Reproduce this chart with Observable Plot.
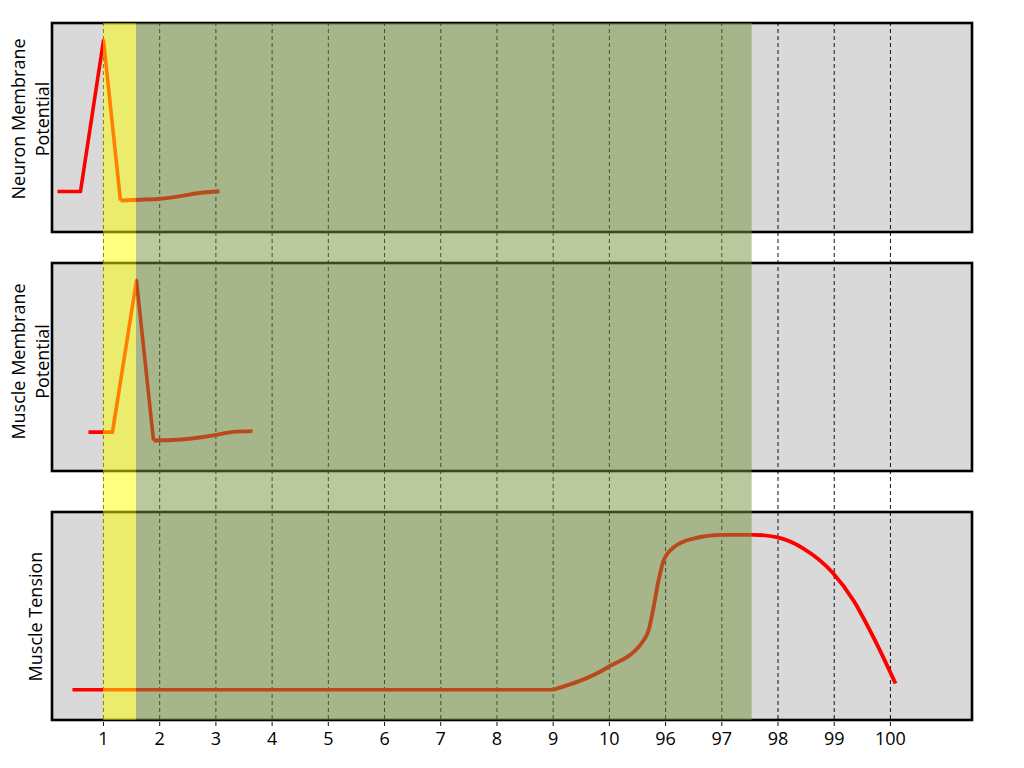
<!DOCTYPE html>
<html>
<head>
<meta charset="utf-8">
<script src="https://cdn.jsdelivr.net/npm/d3@7"></script>
<script src="https://cdn.jsdelivr.net/npm/@observablehq/plot@0.6"></script>
<style>
  html, body { margin: 0; padding: 0; background: white; }
  #chart { width: 1024px; height: 768px; }
</style>
</head>
<body>
<div id="chart"></div>
<script>
// ---------- data ----------
// x positions are category indices (1..15) labelled by tickLabels
const tickLabels = ["1","2","3","4","5","6","7","8","9","10","96","97","98","99","100"];
const tickIndex = tickLabels.map((_, i) => i + 1);

// Neuron membrane potential (mV)
const neuronSpike = [[0.182,-70.6],[0.591,-70.6],[1.0,37.8],[1.302,-77.0]];
const neuronRecovery = [[1.302,-77.0],[1.658,-76.5],[2.014,-75.8],[2.370,-73.9],[2.672,-71.8],[3.064,-70.4]];

// Muscle membrane potential (mV)
const muscleSpike = [[0.733,-71.6],[1.160,-71.6],[1.587,37.7],[1.890,-77.6]];
const muscleRecovery = [[1.890,-77.6],[2.317,-77.1],[2.672,-75.7],[2.957,-74.0],[3.313,-71.4],[3.651,-70.9]];

// Muscle tension (% of max)
const tensionBase = [[0.448,0],[9.006,0]];
const tensionRise = [[9.006,0],[9.966,14.4],[10.607,31.9],[10.697,38.4],[10.785,53.3],[10.875,70.9],
  [10.964,83.8],[11.142,92.3],[11.498,98.1],[11.979,100.5],[12.566,100.5],[12.993,98.8],
  [13.453,91.6],[13.969,76.1],[14.343,57.9],[14.699,33.9],[15.090,4.0]];

// Shaded periods (in x index units)
const periods = [
  {name: "latent", x1: 1.0, x2: 1.587, color: "#FFFF00"},
  {name: "contraction", x1: 1.587, x2: 12.54, color: "#76923C"}
];

// ---------- layout ----------
const xDomain = [0.093, 16.46];
const panels = [
  {key: "neuron", label: "Neuron Membrane\nPotential", lo: 488, hi: 697, vmin: -100, vmax: 50},
  {key: "muscle", label: "Muscle Membrane\nPotential", lo: 249, hi: 457, vmin: -100, vmax: 50},
  {key: "tension", label: "Muscle Tension", lo: 0, hi: 208, vmin: -20, vmax: 115}
];
const P = Object.fromEntries(panels.map(p => [p.key, p]));
const toRow = (p, v) => p.lo + (v - p.vmin) / (p.vmax - p.vmin) * (p.hi - p.lo);
const series = (arr, key, seg) => arr.map(([x, v]) => ({x, y: toRow(P[key], v), seg}));

const smooth = series(neuronRecovery, "neuron", "n")
  .concat(series(muscleRecovery, "muscle", "m"), series(tensionRise, "tension", "t"));
const straight = series(neuronSpike, "neuron", "n")
  .concat(series(muscleSpike, "muscle", "m"), series(tensionBase, "tension", "t"));

const rowTop = panels[0].hi, rowBottom = panels[2].lo;
const lineStyle = {stroke: "#FF0000", strokeWidth: 3.6, strokeLinecap: "butt", strokeLinejoin: "round"};
const labelStyle = {text: "label", frameAnchor: "left", textAnchor: "middle", lineAnchor: "middle", rotate: -90, fontSize: 18, lineHeight: 1.33, fill: "black"};
const mid = d => (d.lo + d.hi) / 2;

const chart = Plot.plot({
  width: 1024,
  height: 768,
  marginTop: 23,
  marginBottom: 48,
  marginLeft: 52,
  marginRight: 52,
  style: {fontFamily: "Open Sans", fontSize: "18px", background: "white", color: "black"},
  x: {type: "linear", domain: xDomain},
  y: {type: "linear", domain: [rowBottom, rowTop], axis: null},
  marks: [
    Plot.rect(panels, {x1: () => xDomain[0], x2: () => xDomain[1], y1: "lo", y2: "hi", fill: "#D9D9D9"}),
    Plot.ruleX(tickIndex, {y1: rowBottom - 6, y2: rowTop, stroke: "#111", strokeWidth: 1, strokeDasharray: "4,3"}),
    Plot.line(straight, {x: "x", y: "y", z: "seg", curve: "linear", ...lineStyle}),
    Plot.line(smooth, {x: "x", y: "y", z: "seg", curve: "monotone-x", ...lineStyle, strokeWidth: 3.9}),
    Plot.rect(panels, {x1: () => xDomain[0], x2: () => xDomain[1], y1: "lo", y2: "hi", fill: "none", stroke: "black", strokeWidth: 2.6}),
    Plot.rect(periods, {x1: "x1", x2: "x2", y1: () => rowBottom, y2: () => rowTop, fill: "color", fillOpacity: 0.5}),
    Plot.axisX(tickIndex, {tickFormat: i => tickLabels[i - 1], tickSize: 0, tickPadding: 12, label: null}),
    Plot.text(panels.slice(0, 1), {y: mid, dx: -23, dy: -9, ...labelStyle}),
    Plot.text(panels.slice(1, 2), {y: mid, dx: -23, dy: -6, ...labelStyle}),
    Plot.text(panels.slice(2), {y: mid, dx: -18, ...labelStyle})
  ]
});
document.getElementById("chart").appendChild(chart);
</script>
</body>
</html>
